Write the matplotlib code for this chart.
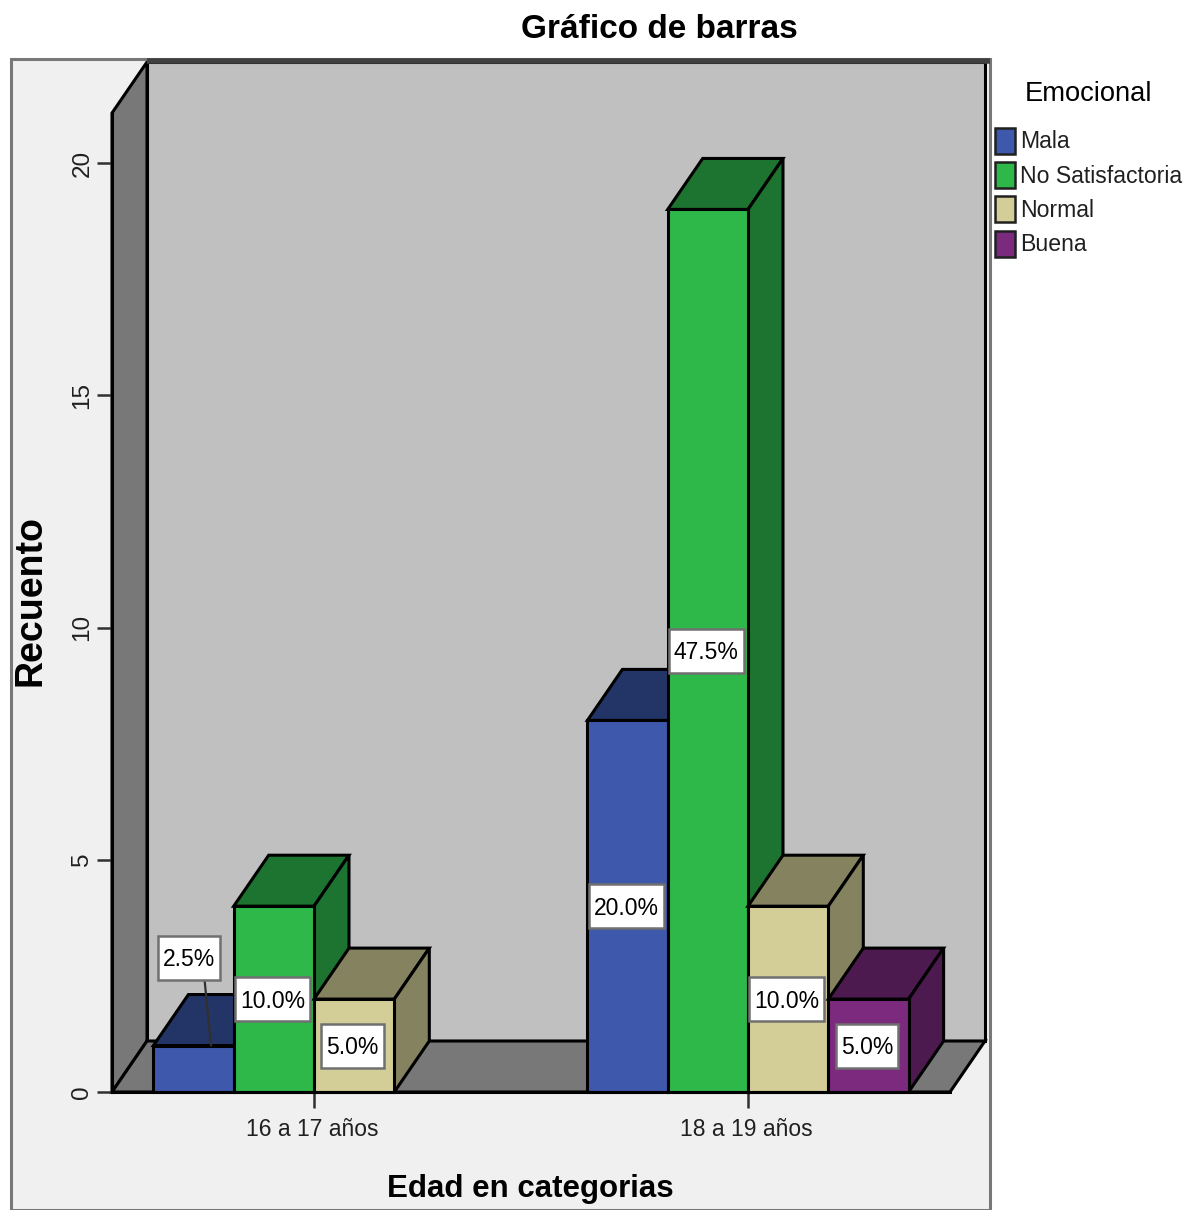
#Grafico de barras 3D (falso) por edad y estado emocional
import matplotlib
matplotlib.use('Agg')
import matplotlib.pyplot as plt
from matplotlib.patches import Rectangle, Patch
from matplotlib.path import Path
from matplotlib.transforms import ScaledTranslation

plt.rcParams['font.family'] = ['Liberation Sans', 'DejaVu Sans']

edades = ['16 a 17 años', '18 a 19 años']
niveles = ['Mala', 'No Satisfactoria', 'Normal', 'Buena']
mala = [1, 8]
no_satisfactoria = [4, 19]
normal = [2, 4]
buena = [0, 2]
pct_mala = ['2.5%', '20.0%']
pct_no_satisfactoria = ['10.0%', '47.5%']
pct_normal = ['5.0%', '10.0%']
pct_buena = ['', '5.0%']

colores = ['#3e58ac', '#2eb84a', '#d3ce97', '#7c2a7e']
oscuros = ['#233466', '#1c7430', '#84825f', '#4d1a4f']

W, H = 1191, 1210
fig = plt.figure(figsize=(W / 100, H / 100), dpi=100, facecolor='white')


def fx(p):
    return p / W


def fy(p):
    return 1 - p / H


def caja_alta(x0, y0, width, height, mutation_size):
    # caja blanca mas alta que el texto, como en el original
    cy = y0 + height / 2 + 2
    a, b = x0 - 5, x0 + width + 5
    c, d = cy - 22, cy + 22
    return Path([(a, c), (b, c), (b, d), (a, d), (a, c)], closed=True)


# marco gris de fondo
fig.add_artist(Rectangle((fx(11), fy(1210)), fx(979), fy(59) - fy(1210), transform=fig.transFigure,
                         facecolor='#f0f0f0', edgecolor='#787878', linewidth=2.2, zorder=-2))

ax = fig.add_axes([fx(112), fy(1092), fx(838), fy(113) - fy(1092)])
ax.patch.set_visible(False)
px_x = 434.0
px_y = 46.45
ax.set_xlim((112 - 314) / px_x, (950 - 314) / px_x)
ax.set_ylim(0, (1092 - 113) / px_y)
x0, x1 = ax.get_xlim()
y1 = ax.get_ylim()[1]
dx = 35 / px_x
dy = 51 / px_y
ancho = 80.3 / px_x

# paredes y piso
kw = dict(edgecolor='black', linewidth=2.2, clip_on=False, zorder=1)
ax.fill([x0 + dx, x1 + dx, x1 + dx, x0 + dx], [dy, dy, y1 + dy, y1 + dy], facecolor='#c0c0c0', **kw)
ax.fill([x0, x0 + dx, x0 + dx, x0], [0, dy, y1 + dy, y1], facecolor='#787878', **kw)
ax.fill([x0, x1, x1 + dx, x0 + dx], [0, 0, dy, dy], facecolor='#787878', **kw)
ax.plot([x0 + dx, x1 + dx + 5 / px_x], [y1 + dy + 0.03, y1 + dy + 0.03], color='#404040', linewidth=4,
        clip_on=False, zorder=1.5, solid_capstyle='butt')

series = [mala, no_satisfactoria, normal, buena]
etiquetas = [pct_mala, pct_no_satisfactoria, pct_normal, pct_buena]

orden = 3
for g in range(len(edades)):
    for i, valores in enumerate(series):
        v = valores[g]
        if v == 0:
            continue
        a = g + (i - 2) * ancho
        b = a + ancho
        ax.fill([a, b, b + dx, a + dx], [v, v, v + dy, v + dy], facecolor=oscuros[i],
                edgecolor='black', linewidth=2.2, clip_on=False, zorder=orden)
        ax.fill([b, b + dx, b + dx, b], [0, dy, v + dy, v], facecolor=oscuros[i],
                edgecolor='black', linewidth=2.2, clip_on=False, zorder=orden)
        ax.bar(a, v, width=ancho, align='edge', color=colores[i], edgecolor='black',
               linewidth=2.2, clip_on=False, zorder=orden + 0.1)
        orden += 1

caja = dict(boxstyle=caja_alta, facecolor='white', edgecolor='#707070', linewidth=1.8)
for g in range(len(edades)):
    for i, valores in enumerate(series):
        t = etiquetas[i][g]
        if t == '':
            continue
        c = g + (i - 1.5) * ancho
        v = valores[g]
        if t == '2.5%':
            # la etiqueta no cabe en la barra
            ax.annotate(t, xy=(c + dx / 2, v), xytext=(-22, 86), textcoords='offset pixels',
                        ha='center', va='center', fontsize=16.5, bbox=caja, zorder=60,
                        arrowprops=dict(arrowstyle='-', color='#303030', linewidth=1.6,
                                        relpos=(0.78, 0), shrinkA=0, shrinkB=0))
        else:
            ax.annotate(t, xy=(c, v / 2), xytext=(-1.5, -2), textcoords='offset pixels',
                        ha='center', va='center', fontsize=16.5, bbox=caja, zorder=60)

ax.set_xticks(range(len(edades)))
ax.set_xticklabels(edades, fontsize=16.5, color='#202020')
ax.set_yticks([0, 5, 10, 15, 20])
ax.set_yticklabels(['0', '5', '10', '15', '20'], fontsize=17.5, rotation=90, va='center', color='#202020')
ax.tick_params(axis='x', length=11.5, width=1.8, color='#303030', pad=7)
ax.tick_params(axis='y', length=11, width=1.8, color='#303030', pad=2.5)
for lab in ax.get_xticklabels():
    lab.set_transform(lab.get_transform() + ScaledTranslation(-1.5 / 100, 0, fig.dpi_scale_trans))
for s in ['top', 'right']:
    ax.spines[s].set_visible(False)
ax.spines['left'].set_linewidth(2.2)
ax.spines['bottom'].set_linewidth(2.2)
ax.spines['bottom'].set_zorder(200)

fig.text(fx(659), fy(29), 'Gráfico de barras', ha='center', va='center', fontsize=24, fontweight='bold')
fig.text(fx(530), fy(1189), 'Edad en categorias', ha='center', va='center', fontsize=22.5, fontweight='bold')
fig.text(fx(30.5), fy(600), 'Recuento', ha='center', va='center', rotation=90, fontsize=27, fontweight='bold')

handles = [Patch(facecolor=colores[i], edgecolor='#202020', linewidth=1.8) for i in range(len(niveles))]
leg = fig.legend(handles, niveles, title='Emocional', title_fontsize=19.7, fontsize=16.6, frameon=False,
                 loc='upper left', bbox_to_anchor=(fx(995), fy(81)), borderaxespad=0, borderpad=0,
                 handlelength=0.87, handleheight=1.35, handletextpad=0.2, labelspacing=0.365, labelcolor='#202020')
leg._legend_box.sep = 15

fig.savefig('out.png', dpi=100)
